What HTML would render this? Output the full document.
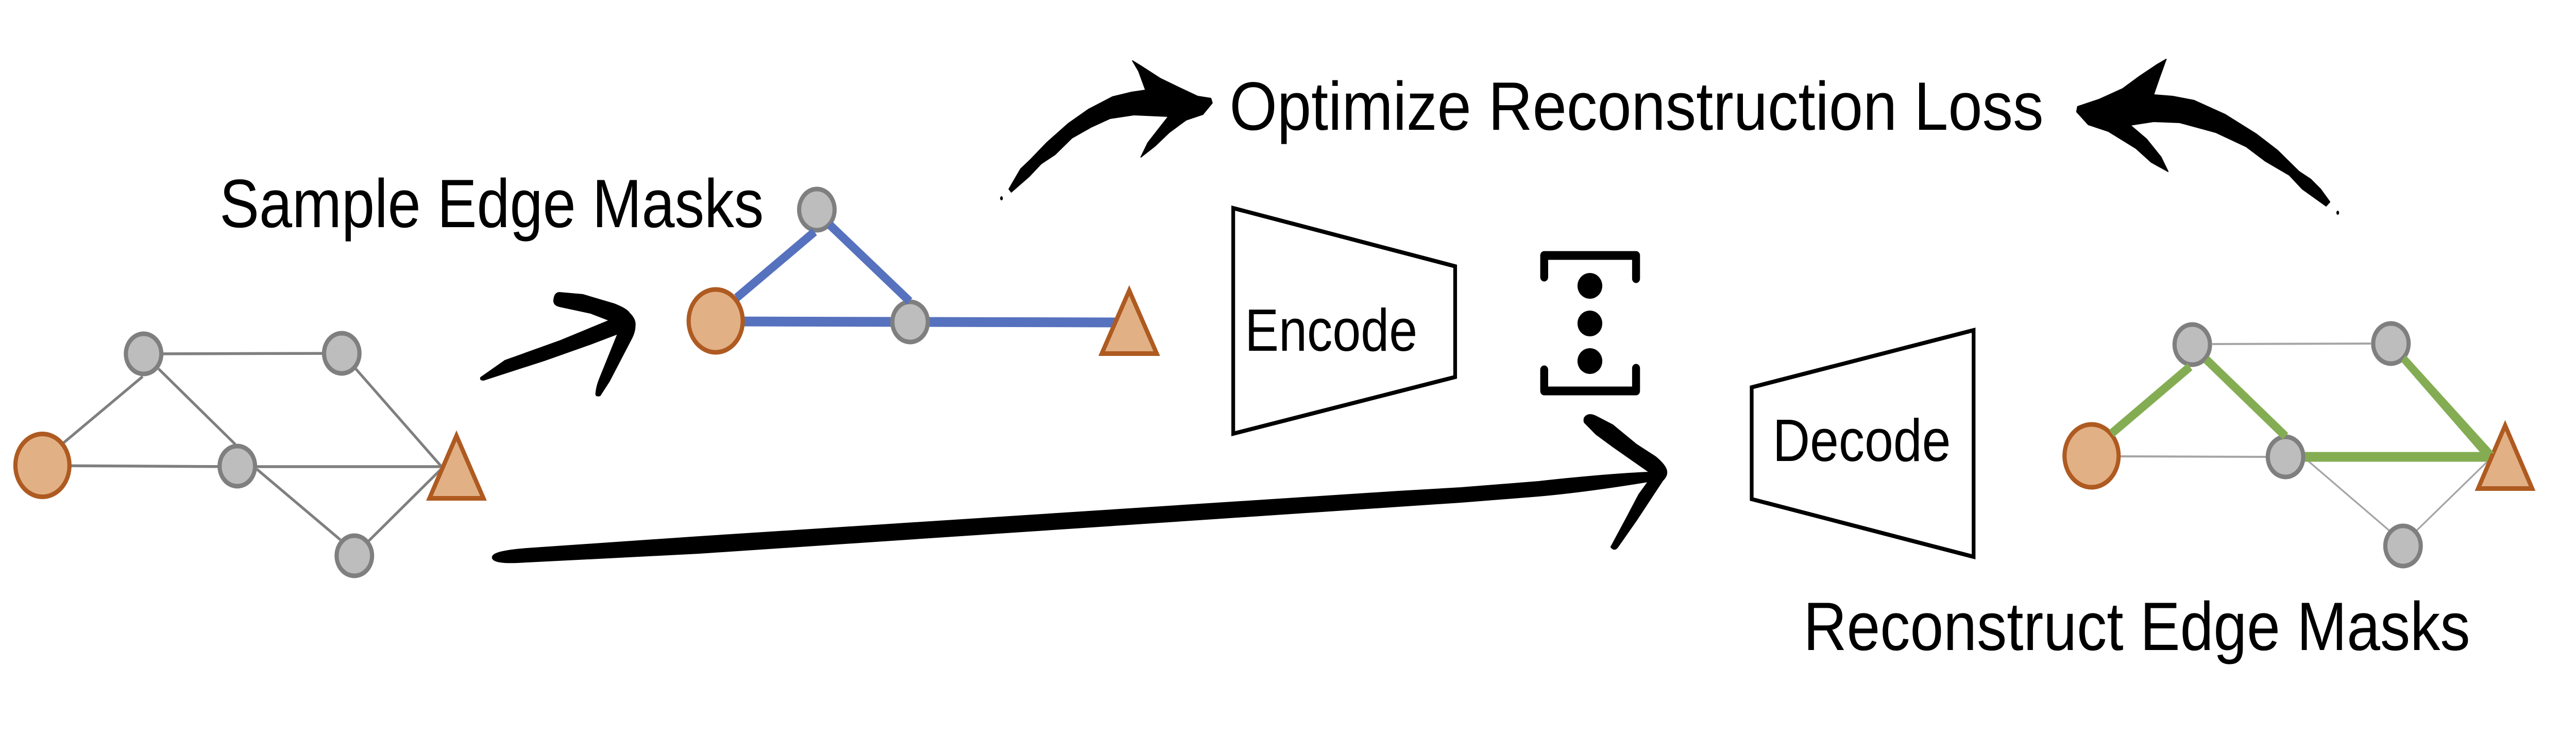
<!DOCTYPE html>
<html><head><meta charset="utf-8"><style>
html,body{margin:0;padding:0;background:#fff;width:100%;height:100%;overflow:hidden}
svg{display:block;width:100vw;height:100vh;overflow:hidden}
text{font-family:"Liberation Sans",sans-serif;fill:#000}
</style></head><body>
<svg xmlns="http://www.w3.org/2000/svg" viewBox="0 0 5525 1427" preserveAspectRatio="none">
<rect width="5525" height="1427" fill="#fff"/>
<!-- Graph 1 -->
<g stroke="#7f7f7f" stroke-width="5.5" fill="none">
<path d="M308 687L733 686M306 731L136 860M340 716L505 863M762 715L947 906M91 904L509 906L947 906M551 911L730 1048M791 1050L947 910"/>
</g>
<g fill="#bdbdbd" stroke="#7f7f7f" stroke-width="9">
<ellipse cx="308" cy="687" rx="38" ry="39"/>
<ellipse cx="733" cy="686" rx="38" ry="39"/>
<ellipse cx="509" cy="905" rx="38" ry="39"/>
<ellipse cx="760" cy="1079" rx="38" ry="39"/>
</g>
<g fill="#e2b085" stroke="#ae5a21" stroke-width="9" stroke-linejoin="miter" stroke-miterlimit="6">
<ellipse cx="91" cy="903.5" rx="58" ry="61"/>
<polygon points="979,846 1037,967.5 921,967.5"/>
</g>
<!-- Graph 2 (blue) -->
<line x1="1535" y1="624" x2="1952" y2="625" stroke="#5672be" stroke-width="19"/>
<line x1="1952" y1="625" x2="2400" y2="626" stroke="#5672be" stroke-width="19"/>
<g fill="#bdbdbd" stroke="#7f7f7f" stroke-width="9">
<ellipse cx="1752" cy="407" rx="38" ry="40"/>
<ellipse cx="1952" cy="625" rx="38" ry="39"/>
</g>
<g fill="#e2b085" stroke="#ae5a21" stroke-width="9" stroke-miterlimit="6">
<ellipse cx="1535" cy="623" rx="58" ry="61"/>
<polygon points="2422,564 2481,686.5 2363,686.5"/>
</g>
<g stroke="#5672be" stroke-width="17" fill="none">
<line x1="1580" y1="578" x2="1747" y2="450"/>
<line x1="1779" y1="436" x2="1951" y2="585"/>
</g>
<!-- Graph 3 (green) -->
<g stroke="#a5a5a5" stroke-width="4" fill="none">
<path d="M4745 668L5085 667M4545 886L4864 887"/>
<path stroke-width="3.5" d="M4939 886L5127 1032M5182 1031L5343 889"/>
</g>
<line x1="4939" y1="887" x2="5347" y2="887" stroke="#84ad53" stroke-width="19"/>
<g fill="#bdbdbd" stroke="#7f7f7f" stroke-width="9">
<ellipse cx="4702" cy="669" rx="38" ry="39"/>
<ellipse cx="5128" cy="667" rx="38" ry="39"/>
<ellipse cx="4902" cy="887" rx="38" ry="39"/>
<ellipse cx="5154" cy="1060" rx="38" ry="39"/>
</g>
<g fill="#e2b085" stroke="#ae5a21" stroke-width="9" stroke-miterlimit="6">
<ellipse cx="4486" cy="885" rx="58" ry="61"/>
<polygon points="5373,826 5431,948.5 5315,948.5"/>
</g>
<g stroke="#84ad53" stroke-width="17" fill="none">
<line x1="4529" y1="841.5" x2="4697" y2="712"/>
<line x1="4732" y1="698" x2="4902" y2="847"/>
</g>
<polygon fill="#84ad53" points="5160,690 5150,702 5320,879 5350,880"/>
<!-- Encode / Decode -->
<polygon points="2645,404 3121,517 3121,732 2645,842" fill="none" stroke="#000" stroke-width="8"/>
<polygon points="3757,752 4233,641 4233,1081 3757,969" fill="none" stroke="#000" stroke-width="8"/>
<text x="2670" y="681" font-size="116" textLength="370" lengthAdjust="spacingAndGlyphs">Encode</text>
<text x="3802" y="895" font-size="116" textLength="382" lengthAdjust="spacingAndGlyphs">Decode</text>
<!-- Labels -->
<text x="2637" y="252" font-size="133" textLength="1746" lengthAdjust="spacingAndGlyphs">Optimize Reconstruction Loss</text>
<text x="471" y="441" font-size="133" textLength="1167" lengthAdjust="spacingAndGlyphs">Sample Edge Masks</text>
<text x="3868" y="1262" font-size="133" textLength="1430" lengthAdjust="spacingAndGlyphs">Reconstruct Edge Masks</text>
<!-- Latent -->
<g fill="#000">
<ellipse cx="3410" cy="555" rx="26.6" ry="25"/>
<ellipse cx="3410" cy="628" rx="26.6" ry="25"/>
<ellipse cx="3410" cy="701" rx="26.6" ry="25"/>
</g>
<g fill="none" stroke="#000" stroke-width="17" stroke-linecap="round" stroke-linejoin="round">
<path d="M3312 538L3312 496L3509 496L3509 541"/>
<path d="M3312 718L3312 759L3509 759L3509 715"/>
</g>
<!-- Brush arrows -->
<g fill="#000" stroke="#000" stroke-width="2" stroke-linejoin="round">
<path d="M1031 733L1083 700L1200 662L1307 622L1267 608L1200 595Q1186 592 1188 581Q1190 568 1200 568L1250 572L1317 590Q1345 600 1350 608Q1364 620 1362 633Q1362 645 1353 660L1330 700L1307 740L1287 768Q1278 770 1278 765Q1279 750 1287 733L1325 648L1267 668L1167 700L1037 738Q1029 738 1031 733Z"/>
<path d="M1056 1082Q1056 1070 1130 1065L1500 1042L3000 954L3133 947L3300 935Q3450 920 3538 917L3500 893L3459 867L3423 843L3398 820Q3395 810 3405 806Q3412 803 3425 809L3459 825L3510 863L3551 887Q3575 905 3575 917Q3575 925 3566 933L3510 1010L3469 1063Q3462 1070 3455 1062L3490 1003L3515 960L3535 935Q3400 955 3300 963L3133 975L3000 983L1500 1074L1110 1092Q1056 1094 1056 1082Z"/>
<path d="M2164 367L2189 328L2210 310L2245 277L2291 240L2335 212L2386 188L2427 179L2457 175L2442 138L2429 118L2447 128L2488 152L2529 170L2569 187L2597 191L2600 200L2580 222L2544 233L2508 257L2478 283L2447 305L2462 277L2506 226L2432 223L2381 230L2340 247L2299 268L2263 300L2233 318L2207 343L2169 373Z"/>
<ellipse cx="2148" cy="385" rx="2" ry="3"/>
<path d="M4989 400L4997 392L4977 367L4956 348L4931 333L4885 292L4839 260L4772 222L4706 195L4660 187L4619 184L4632 150L4646 115L4627 125L4589 148L4553 172L4502 193L4456 207L4454 217L4479 242L4522 255L4581 288L4614 315L4650 333L4635 305L4604 270L4569 243L4619 236L4675 238L4752 257L4818 285L4859 313L4910 340L4938 367Z"/>
<ellipse cx="5014" cy="413" rx="2" ry="3"/>
</g>
</svg>
</body></html>
